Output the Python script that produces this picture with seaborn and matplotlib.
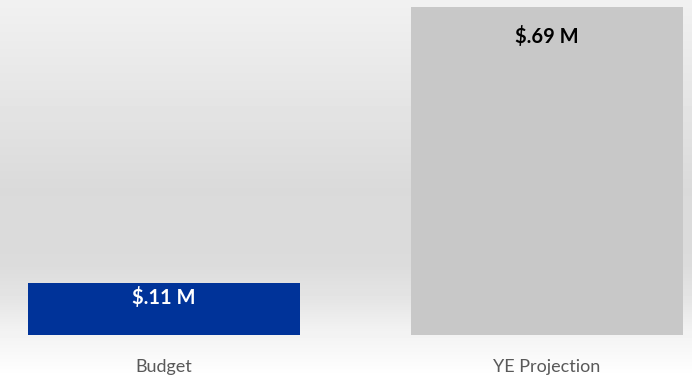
import numpy as np
import pandas as pd
import matplotlib
matplotlib.use('Agg')
import matplotlib.pyplot as plt
import seaborn as sns

# chart data
categories = ['Budget', 'YE Projection']
values = [0.11, 0.69]
value_labels = ['$.11 M', '$.69 M']
bar_colors = ['#003399', '#c8c8c8']
label_colors = ['white', 'black']
label_offsets = [-11, -21]  # points below the bar top

df = pd.DataFrame({'category': categories, 'value': values})

sns.set_style('white')
plt.rcParams['font.family'] = ['Lato', 'DejaVu Sans']

fig = plt.figure(figsize=(6.92, 3.77), dpi=100)

# background gradient (light at top, gray in middle, white at bottom)
bg = fig.add_axes([0, 0, 1, 1], zorder=0)
stops_y = [0.0, 0.25, 0.5, 0.7, 0.8, 0.88, 1.0]
stops_c = [0.945, 0.90, 0.855, 0.86, 0.90, 0.95, 1.0]
yy = np.linspace(0, 1, 377)
grad = np.interp(yy, stops_y, stops_c)
bg.imshow(np.repeat(grad[:, None], 2, axis=1), cmap='gray', vmin=0, vmax=1,
          aspect='auto', extent=[0, 1, 1, 0])
bg.axis('off')

ax = fig.add_axes([0, 42 / 377, 1, 335 / 377], zorder=1)
ax.patch.set_alpha(0)
sns.barplot(data=df, x='category', y='value', hue='category', palette=bar_colors,
            width=0.71, legend=False, ax=ax, saturation=1, linewidth=0)

for i, (v, lab) in enumerate(zip(values, value_labels)):
    ax.annotate(lab, (i, v), xytext=(0, label_offsets[i]), textcoords='offset points',
                ha='center', va='center', fontsize=14.5, fontweight='bold',
                color=label_colors[i])

ax.set_xlim(-0.428, 1.379)
ax.set_ylim(0, 0.7047)
ax.set_xlabel('')
ax.set_ylabel('')
ax.set_yticks([])
ax.tick_params(axis='x', length=0, labelsize=13, labelcolor='#595959', pad=17)
sns.despine(ax=ax, left=True, bottom=True)

fig.savefig('out.png', dpi=100)
